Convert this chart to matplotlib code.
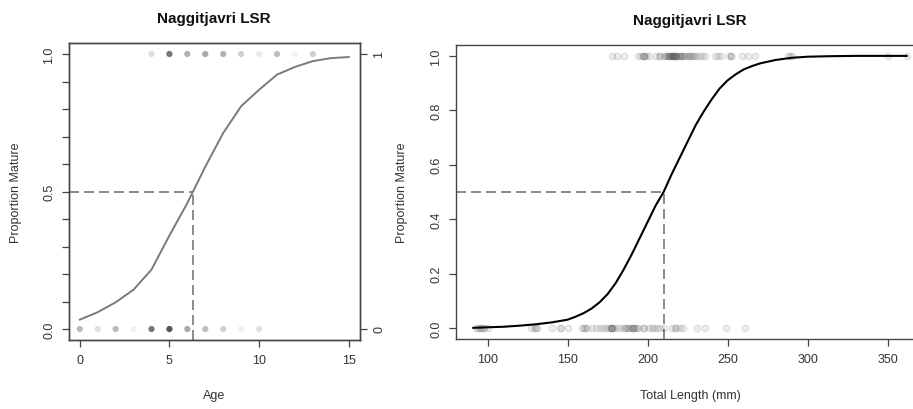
import matplotlib
matplotlib.use("Agg")
import matplotlib.pyplot as plt
import numpy as np

plt.rcParams['font.family'] = ['Liberation Sans', 'DejaVu Sans']

# ---------------- data ----------------
title = "Naggitjavri LSR"

# Left panel: age maturity
age_mature = [4, 5, 6, 7, 8, 9, 10, 11, 12, 13]
age_mature_shade = [0.18, 0.80, 0.45, 0.50, 0.45, 0.28, 0.12, 0.38, 0.08, 0.28]
age_immature = [0, 1, 2, 3, 4, 5, 6, 7, 8, 9, 10]
age_immature_shade = [0.40, 0.18, 0.40, 0.08, 0.80, 1.00, 0.50, 0.38, 0.28, 0.10, 0.18]
age_curve_x = [0, 1, 2, 3, 4, 5, 6, 7, 8, 9, 10, 11, 12, 13, 14, 15]
age_curve_y = [0.034, 0.061, 0.097, 0.143, 0.216, 0.34, 0.458, 0.59, 0.713, 0.81, 0.87,
               0.925, 0.953, 0.974, 0.985, 0.989]
age50 = 6.3

# Right panel: length maturity
len_mature = [178, 181, 185, 194, 196, 197, 198, 198, 199, 201, 205, 207, 208, 210, 211,
              212, 213, 213, 214, 214, 215, 215, 216, 216, 217, 217, 218, 218, 219, 220,
              220, 221, 222, 223, 224, 225, 226, 227, 228, 229, 230, 232, 234, 236, 242,
              244, 246, 251, 252, 252, 259, 263, 267, 288, 289, 290, 350, 362]
len_immature = [93, 94, 95, 96, 97, 98, 100, 127, 129, 130, 131, 140, 145, 146, 150, 159,
                160, 161, 162, 165, 168, 170, 172, 174, 176, 177, 177, 178, 178, 179, 181,
                183, 185, 186, 187, 188, 189, 190, 191, 191, 192, 193, 194, 197, 198, 201,
                203, 204, 206, 208, 210, 215, 217, 218, 220, 222, 231, 236, 249, 261]
len_curve_x = [91, 100, 110, 120, 130, 140, 145, 150, 155, 160, 165, 170, 175, 180, 185,
               190, 195, 200, 205, 210, 215, 220, 225, 230, 235, 240, 245, 250, 255, 260,
               265, 270, 280, 290, 300, 315, 330, 362]
len_curve_y = [0.001, 0.003, 0.005, 0.009, 0.014, 0.021, 0.026, 0.031, 0.042, 0.055, 0.072,
               0.095, 0.125, 0.165, 0.215, 0.27, 0.33, 0.39, 0.45, 0.50, 0.565, 0.625,
               0.685, 0.745, 0.795, 0.84, 0.88, 0.91, 0.932, 0.95, 0.962, 0.972, 0.985,
               0.993, 0.997, 0.999, 1.0, 1.0]
len50 = 210

# ---------------- figure ----------------
W, H = 913, 410
fig = plt.figure(figsize=(W / 100, H / 100), dpi=100)

spine_col = '#444444'
text_col = '#333333'
fs_tick = 9
fs_lab = 9

def px_axes(l, t, r, b):
    return [l / W, 1 - b / H, (r - l) / W, (b - t) / H]

def style(ax):
    for s in ax.spines.values():
        s.set_color(spine_col)
        s.set_linewidth(1.0)
    ax.tick_params(direction='out', length=5, width=0.9, color=spine_col,
                   labelsize=fs_tick, labelcolor=text_col, pad=5)

# Left panel
ax1 = fig.add_axes(px_axes(69, 44, 359.5, 341))
ax1.set_xlim(-0.6, 15.6)
ax1.set_ylim(-0.04, 1.04)
style(ax1)
ax1.set_xticks([0, 5, 10, 15])
yt = [round(v * 0.1, 1) for v in range(11)]
ax1.set_yticks(yt)
ax1.set_yticklabels(['0.0' if v == 0 else '0.5' if v == 0.5 else '1.0' if v == 1.0 else ''
                     for v in yt])
ax1.tick_params(axis='y', labelrotation=90)
for lb in ax1.get_yticklabels():
    lb.set_va('center')

base = np.array([0.33, 0.33, 0.33])
ax1.scatter(age_mature, [1] * len(age_mature),
            c=[(*base, a) for a in age_mature_shade], s=20, linewidths=0, zorder=3)
ax1.scatter(age_immature, [0] * len(age_immature),
            c=[(*base, a) for a in age_immature_shade], s=20, linewidths=0, zorder=3)
ax1.plot(age_curve_x, age_curve_y, color='#7a7a7a', lw=1.4, zorder=4)
x0 = ax1.get_xlim()[0]
y0 = ax1.get_ylim()[0]
ax1.plot([x0, age50], [0.5, 0.5], color='#777777', lw=1.2, dashes=(6, 3), zorder=2)
ax1.plot([age50, age50], [y0, 0.5], color='#777777', lw=1.2, dashes=(6, 3), zorder=2)
ax1.set_title(title, fontsize=11, fontweight='bold', color='#111111', pad=15)
ax1.set_xlabel('Age', fontsize=fs_lab, color=text_col, va='center')
ax1.xaxis.set_label_coords(0.5, (341 - 396) / (341 - 44))
ax1.set_ylabel('Proportion Mature', fontsize=fs_lab, color=text_col, va='center')
ax1.yaxis.set_label_coords((16 - 69) / (359.5 - 69), 0.5)

ax1r = ax1.twinx()
ax1r.set_ylim(ax1.get_ylim())
style(ax1r)
ax1r.set_yticks([0, 1])
ax1r.set_yticklabels(['0', '1'])
ax1r.tick_params(axis='y', labelrotation=90)
for lb in ax1r.get_yticklabels():
    lb.set_va('center')

# Right panel
ax2 = fig.add_axes(px_axes(456, 46, 924, 340))
ax2.set_xlim(80.2, 372.8)
ax2.set_ylim(-0.04, 1.04)
style(ax2)
ax2.set_xticks([100, 150, 200, 250, 300, 350])
ax2.set_yticks([0, 0.2, 0.4, 0.6, 0.8, 1.0])
ax2.set_yticklabels(['0.0', '0.2', '0.4', '0.6', '0.8', '1.0'])
ax2.tick_params(axis='y', labelrotation=90)
for lb in ax2.get_yticklabels():
    lb.set_va('center')

ax2.scatter(len_mature, [1] * len(len_mature), s=22, facecolor=(0, 0, 0, 0.07),
            edgecolor=(0, 0, 0, 0.11), linewidths=0.8, zorder=3)
ax2.scatter(len_immature, [0] * len(len_immature), s=22, facecolor=(0, 0, 0, 0.07),
            edgecolor=(0, 0, 0, 0.11), linewidths=0.8, zorder=3)
ax2.plot(len_curve_x, len_curve_y, color='black', lw=1.5, zorder=4)
x0 = ax2.get_xlim()[0]
y0 = ax2.get_ylim()[0]
ax2.plot([x0, len50], [0.5, 0.5], color='#777777', lw=1.2, dashes=(6, 3), zorder=2)
ax2.plot([len50, len50], [y0, 0.5], color='#777777', lw=1.2, dashes=(6, 3), zorder=2)
ax2.set_title(title, fontsize=11, fontweight='bold', color='#111111', pad=15)
ax2.set_xlabel('Total Length (mm)', fontsize=fs_lab, color=text_col, va='center')
ax2.xaxis.set_label_coords(0.5, (340 - 396) / (340 - 46))
ax2.set_ylabel('Proportion Mature', fontsize=fs_lab, color=text_col, va='center')
ax2.yaxis.set_label_coords((402 - 456) / (924 - 456), 0.5)

fig.savefig('out.png', dpi=100)
